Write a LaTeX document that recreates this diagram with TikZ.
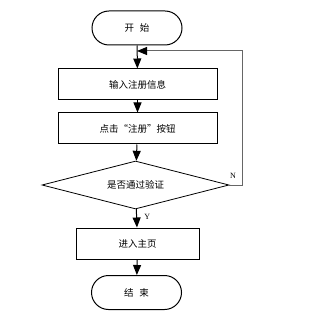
\documentclass[tikz,border=0pt]{standalone}
\usepackage{fontspec}
\setmainfont{Liberation Serif}
\newfontfamily\cjk{Noto Sans CJK SC}
\usetikzlibrary{shapes.geometric,arrows.meta}
\begin{document}
\begin{tikzpicture}[x=1pt,y=-1pt,
  every node/.style={font=\cjk\fontsize{9.5}{11}\selectfont},
  term/.style={draw,rounded corners=17pt,minimum width=90pt,minimum height=34pt,inner sep=0pt,line width=1pt},
  proc/.style={draw,minimum width=159pt,minimum height=31pt,inner sep=0pt,line width=1pt},
  proc2/.style={draw,minimum width=123pt,minimum height=31pt,inner sep=0pt,line width=1pt},
  dec/.style={draw,diamond,aspect=3.9,minimum width=187pt,minimum height=48pt,inner sep=0pt,line width=0.8pt},
  arr/.style={-{Triangle[width=8pt,length=10pt,color=black]},line width=1pt},
  lbl/.style={font=\rmfamily\fontsize{8}{9}\selectfont}]
\useasboundingbox (0,0) rectangle (309,320);
\node[term] (start) at (137,28) {开\hspace{0.6em}始};
\node[proc] (in) at (137.5,84.5) {输入注册信息};
\node[proc] (click) at (137.5,128.5) {点击“注册”按钮};
\node[dec] (chk) at (135.5,185) {是否通过验证};
\node[proc2] (home) at (137.5,243.5) {进入主页};
\node[term] (end) at (136.5,292.5) {结\hspace{0.6em}束};
\coordinate (c1) at (242,185);
\coordinate (c2) at (242,51);
\coordinate (j) at (137,51);
\draw[arr] (start) -- (in);
\draw[arr] (in) -- (click);
\draw[arr] (click) -- (chk);
\draw[arr] (chk) -- node[lbl,right,pos=0.4,xshift=4pt]{Y} (home);
\draw[arr] (home) -- (end);
\draw[arr,draw=gray!80!black] (chk.east) -- (c1) -- (c2) -- (j);
\node[lbl] (n) at (233,176) {N};
\end{tikzpicture}
\end{document}
